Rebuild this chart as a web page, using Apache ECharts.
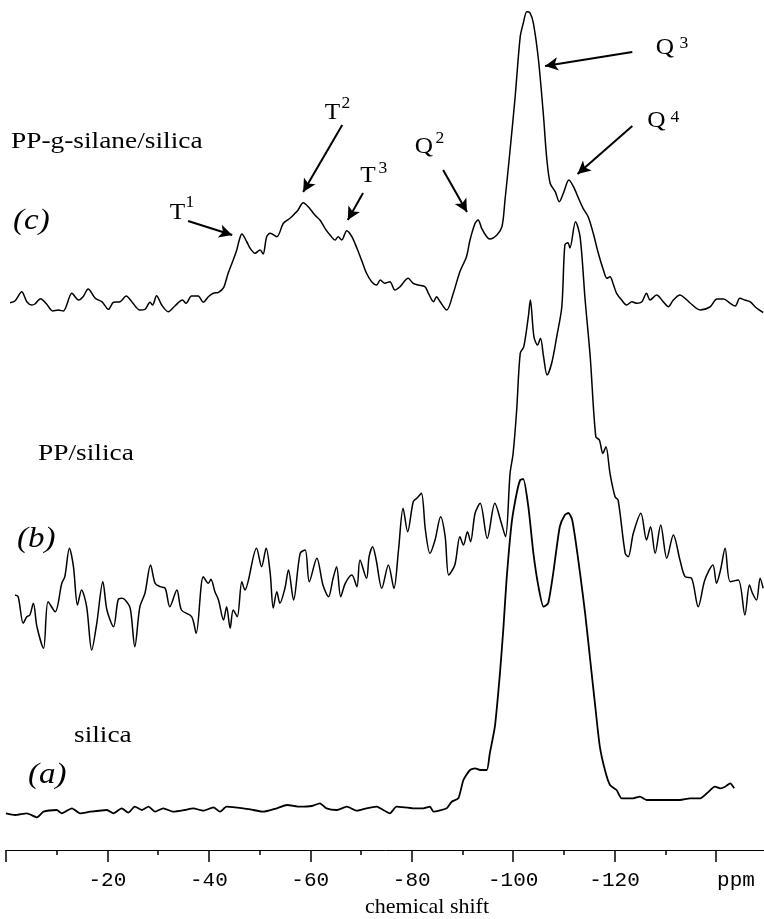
<!DOCTYPE html>
<html><head><meta charset="utf-8">
<script src="https://cdn.jsdelivr.net/npm/echarts@6/dist/echarts.min.js"></script>
<style>html,body{margin:0;padding:0;background:#fff}#c{width:764px;height:919px}</style>
</head><body><div id="c"></div>
<script>
// ---- data: [chemical shift (ppm), intensity relative to trace baseline] ----
const traceC = [[-0.8,-2.7],[-1.8,-0.7],[-3.1,8.3],[-4.1,-1.7],[-5.1,-5],[-5.7,-4],[-6.8,1.3],[-8.0,-4],[-9.2,-11],[-10.3,-10],[-11.3,-11],[-13.0,6.7],[-14.3,0],[-15.2,3.3],[-16.2,11],[-17.6,1.7],[-18.9,-1.7],[-20.2,-9.3],[-21.2,-2.3],[-22.5,-1.7],[-23.7,4],[-24.8,-1.7],[-26.4,-10],[-27.4,-9.3],[-28.4,-2.3],[-28.9,-5],[-29.7,4.3],[-30.7,-5],[-32.0,-11.7],[-33.3,-6],[-34.8,0],[-35.5,-3.3],[-36.6,4],[-37.9,4],[-38.9,-2.3],[-39.9,3.3],[-40.9,6.7],[-41.9,7.7],[-42.9,12.3],[-43.8,26.7],[-44.8,40],[-45.5,50],[-46.0,60],[-46.5,66],[-47.5,58],[-48.1,52],[-49.1,46.7],[-50.1,50],[-50.7,46],[-51.4,63.3],[-52.1,66.7],[-53.4,63.3],[-54.7,76.7],[-56.0,81.7],[-57.0,86.7],[-57.6,90],[-58.6,97.3],[-59.6,93.3],[-60.9,85],[-61.9,80],[-62.9,71.7],[-63.9,65],[-64.9,60],[-65.5,63.3],[-66.2,60],[-67.2,69.3],[-68.2,63.3],[-69.2,51.7],[-70.1,40],[-71.1,26.7],[-72.1,18.3],[-73.1,15],[-73.8,20],[-74.7,16.7],[-75.7,18.3],[-76.7,10],[-77.7,13.3],[-79.3,21.7],[-80.3,16.7],[-81.3,15],[-82.6,13.3],[-83.3,6.7],[-84.3,-1.7],[-84.9,3.3],[-85.6,-1.7],[-86.9,-10],[-88.2,6.7],[-89.5,28.3],[-90.8,43.3],[-91.5,60],[-92.5,76.7],[-93.1,80],[-93.8,71.7],[-94.8,63.3],[-95.4,61],[-96.8,65],[-97.8,73.3],[-98.4,100],[-99.4,150],[-100.4,203.3],[-101.4,263.3],[-102.0,276.7],[-102.7,288.3],[-103.3,287.3],[-104.0,276.7],[-105.0,240],[-106.0,183.3],[-106.6,143.3],[-107.3,116.7],[-108.3,108.3],[-109.1,98.3],[-109.9,106.7],[-111.0,120],[-111.9,113.3],[-112.9,101.7],[-113.8,91.7],[-114.8,83.3],[-115.8,66.7],[-116.8,46.7],[-117.8,30],[-118.5,21.7],[-119.1,23.3],[-119.8,15],[-120.4,6.7],[-121.4,0],[-122.4,-5],[-123.4,-1.7],[-124.4,-3.3],[-125.4,-1.7],[-126.3,6.7],[-127.0,0],[-128.3,5],[-129.6,-1.7],[-130.6,-6.7],[-131.6,0],[-132.9,5],[-133.9,1.7],[-134.9,-3],[-136.9,-10],[-138.8,-7],[-140.2,1],[-141.5,1],[-142.8,-3.3],[-143.8,-6],[-144.7,1.7],[-145.7,0],[-146.7,-1.7],[-148.0,-8],[-149.3,-12.5]];

const traceB = [[-1.8,5],[-2.4,3.3],[-3.4,-23.3],[-4.1,-16.7],[-4.7,-15],[-5.4,-3.3],[-6.1,-26.7],[-7.4,-48.3],[-8.3,-1.7],[-9.7,-11.7],[-11.0,16.7],[-11.6,23.3],[-12.5,51.7],[-13.3,33.3],[-14.1,-5],[-14.9,10],[-15.9,-6.7],[-16.9,-50],[-17.9,-23.3],[-19.1,18.3],[-19.9,-10],[-21.2,-26.7],[-22.1,0],[-22.8,1.7],[-23.5,0],[-24.5,-8.3],[-25.4,-46.7],[-26.4,-6.7],[-27.4,6.7],[-28.5,35],[-29.4,16.7],[-30.4,13.3],[-31.4,11.7],[-32.3,-6.7],[-33.7,10],[-34.6,-10],[-36.6,-16.7],[-37.5,-33.3],[-38.9,23.3],[-39.9,16.7],[-40.4,20.7],[-41.2,8.3],[-41.9,0],[-42.9,-20],[-43.5,-6.7],[-44.2,-28.3],[-44.8,-10],[-45.6,-16.7],[-46.5,18.3],[-47.1,10],[-49.4,51.7],[-50.4,33.3],[-51.3,51.7],[-52.1,26.7],[-52.7,-8],[-53.4,8.3],[-54.0,-3.3],[-55.0,11.7],[-55.7,30],[-56.7,0],[-58.0,46.7],[-59.0,50],[-59.8,18.3],[-61.3,41.7],[-62.5,15],[-63.6,3.3],[-64.5,21.7],[-65.2,33.3],[-66.0,3.3],[-66.9,16.7],[-68.2,25],[-69.2,13.3],[-69.8,40],[-71.1,21.7],[-71.6,43.3],[-72.3,53.3],[-73.0,40],[-74.1,11.7],[-75.4,35],[-76.5,11.7],[-77.4,50],[-78.3,91.7],[-79.2,68.3],[-80.3,98.3],[-81.0,101.7],[-81.9,106.7],[-82.7,70],[-83.6,46.7],[-84.6,60],[-85.7,83.3],[-86.6,63.3],[-87.3,25],[-88.5,35],[-89.5,63.3],[-90.2,55],[-91.0,68.3],[-91.6,58.3],[-92.5,86.7],[-93.5,96.7],[-94.9,61.7],[-96.4,96.7],[-97.6,78.3],[-98.5,63.3],[-99.4,126.7],[-100.0,146.7],[-100.7,190],[-101.4,246.7],[-102.1,253.3],[-103.0,283.3],[-103.4,300],[-104.1,263.3],[-104.8,255],[-105.4,261.7],[-106.0,243.3],[-106.7,225],[-107.6,236.7],[-108.6,263.3],[-109.6,293.3],[-110.2,355],[-110.8,357.3],[-111.2,352],[-112.3,378.3],[-113.2,363.3],[-114.2,300],[-115.2,243.3],[-116.3,163.3],[-117.0,160],[-117.7,146.7],[-118.3,153.3],[-119.1,126.7],[-120.1,103.3],[-120.7,100],[-122.1,46.7],[-122.7,43.3],[-123.7,66.7],[-125.2,86.7],[-126.3,60],[-127.1,73.3],[-128.0,46.7],[-129.1,75],[-130.3,41.7],[-131.6,65],[-132.9,40],[-133.9,23.3],[-135.2,21.7],[-136.5,-6.7],[-137.8,20],[-139.4,35],[-140.1,16.7],[-140.9,30],[-141.8,51.7],[-142.8,18.3],[-144.4,20],[-145.7,-15],[-146.6,15],[-147.2,6.7],[-148.0,0],[-148.7,21.7],[-149.3,11.7]];

const traceA = [[0,-1.3],[-1.8,-3],[-4.1,-1.3],[-6.1,-5.3],[-7.4,0.3],[-10.0,2],[-11.0,-1.3],[-13.0,3.7],[-14.6,-1.3],[-16.6,0.3],[-19.9,2],[-21.2,-1.3],[-22.8,3.7],[-24.1,-0.7],[-25.4,5.3],[-26.8,2],[-28.1,5.3],[-29.4,0.3],[-31.0,3.7],[-33.0,0.3],[-35.3,2],[-36.9,3.7],[-38.9,1.3],[-40.9,4.7],[-42.2,0.3],[-43.5,5.3],[-46.8,3.7],[-48.8,2],[-50.7,0.3],[-53.4,3.7],[-55.4,7],[-58.0,5.3],[-60.3,6],[-61.9,8.7],[-63.2,3.7],[-65.2,2],[-67.2,5.3],[-69.2,1.3],[-71.1,3.7],[-73.1,5.3],[-73.8,3.7],[-75.7,-1.3],[-77.0,5.3],[-80.3,3.7],[-82.3,3.7],[-83.6,5.3],[-84.3,0.3],[-86.9,3.7],[-87.9,10.3],[-89.2,13.7],[-90.2,32],[-91.5,42],[-92.5,43.7],[-93.5,42],[-94.8,42],[-95.4,58.7],[-96.4,85.3],[-97.4,138.7],[-98.1,185.3],[-98.7,232],[-99.7,288.7],[-100.7,318.7],[-101.4,332],[-102.0,333],[-103.0,305.3],[-104.0,258.7],[-105.0,225.3],[-106.0,205.3],[-106.9,208.7],[-107.9,238.7],[-109.2,285.3],[-110.2,297],[-110.9,299],[-111.6,293],[-112.2,275.3],[-113.2,238.7],[-114.2,198.7],[-115.2,152],[-116.2,105.3],[-117.1,65.3],[-118.1,42],[-119.1,27],[-120.4,22],[-121.4,13.7],[-123.7,13.7],[-125.0,15.3],[-126.3,12],[-128.3,12],[-132.9,12],[-134.9,13.7],[-136.9,13.7],[-138.2,18.7],[-139.8,25.3],[-140.8,23.7],[-141.8,25.3],[-142.8,28.7],[-143.6,23.7]];

// vertical stacking offsets of the three spectra (a, b, c)
const traceOffsets = [38, 250, 550];
const traceNames = ['silica', 'PP/silica', 'PP-g-silane/silica'];
const panelTags = ['(a)', '(b)', '(c)'];

// x-axis ticks
const majorTicks = [0, -20, -40, -60, -80, -100, -120, -140];
const majorTickLabels = ['', '-20', '-40', '-60', '-80', '-100', '-120', 'ppm'];
const axisTitle = 'chemical shift';

// peak annotations (arrows in data coordinates: [ppm, stacked intensity])
const annotationLetters = ['T', 'T', 'T', 'Q', 'Q', 'Q'];
const annotationSups = ['1', '2', '3', '2', '3', '4'];
const arrowFrom = [[-35.9, 629], [-66.3, 725], [-70.4, 657], [-86.2, 680], [-123.5, 798], [-123.5, 724]];
const arrowTo = [[-44.6, 615], [-58.6, 658], [-67.4, 630], [-90.9, 638], [-106.3, 784], [-112.7, 676]];

// ---- layout ----
const SERIF = '"Liberation Serif","Times New Roman",serif';
const letterPos = [[177.5, 212.5], [332.5, 112.5], [368, 175.5], [424, 147], [665, 47.5], [656.5, 121]];
const supPos = [[190, 202.5], [346, 104], [383, 169], [440, 139], [684, 44], [675, 117.5]];
const namePos = [[74, 735.5], [38, 454], [11, 142]];
const tagPos = [[28, 775], [17, 539], [13, 221]];

const chart = echarts.init(document.getElementById('c'), null, {renderer: 'canvas'});

function stack(trace, off) { return trace.map(p => [p[0], p[1] + off]); }

const graphics = [];
traceNames.forEach((t, i) => graphics.push({
  type: 'text', x: namePos[i][0], y: namePos[i][1], scaleX: 1.19,
  style: {text: t, font: '23px ' + SERIF, fill: '#000', textAlign: 'left', textVerticalAlign: 'middle'}
}));
panelTags.forEach((t, i) => graphics.push({
  type: 'text', x: tagPos[i][0], y: tagPos[i][1], scaleX: 1.1,
  style: {text: t, font: 'italic 30px ' + SERIF, fill: '#000', textAlign: 'left', textVerticalAlign: 'middle'}
}));
annotationLetters.forEach((t, i) => {
  graphics.push({type: 'text', x: letterPos[i][0], y: letterPos[i][1], scaleX: 1.1,
    style: {text: t, font: '23px ' + SERIF, fill: '#000', textAlign: 'center', textVerticalAlign: 'middle'}});
  graphics.push({type: 'text', x: supPos[i][0], y: supPos[i][1], scaleX: 1.1,
    style: {text: annotationSups[i], font: '16px ' + SERIF, fill: '#000', textAlign: 'center', textVerticalAlign: 'middle'}});
});
graphics.push({type: 'text', x: 427, y: 907.5,
  style: {text: axisTitle, font: '22px ' + SERIF, fill: '#000', textAlign: 'center', textVerticalAlign: 'middle'}});

const xCommon = {type: 'value', min: -160, max: 0, inverse: true, position: 'bottom',
  splitLine: {show: false}};

const option = {
  animation: false,
  backgroundColor: '#fff',
  grid: {left: 6, right: -53.4, top: 0, bottom: 69, containLabel: false, outerBoundsMode: 'none'},
  xAxis: [
    Object.assign({}, xCommon, {
      interval: 20,
      axisLine: {show: true, lineStyle: {color: '#000', width: 1}},
      axisTick: {show: true, length: 12, lineStyle: {color: '#000', width: 1.5}},
      minorTick: {show: false},
      axisLabel: {
        show: true, margin: 20, color: '#000', fontFamily: '"Liberation Mono",monospace', fontSize: 21,
        formatter: v => {
          const k = majorTicks.indexOf(v);
          if (k < 0) return '';
          const s = majorTickLabels[k];
          return s === 'ppm' ? '{p|ppm}' : s;
        },
        rich: {p: {fontFamily: '"Liberation Mono",monospace', fontSize: 21, color: '#000', padding: [0, 0, 0, 40]}}
      }
    }),
    Object.assign({}, xCommon, {
      interval: 10,
      axisLine: {show: false},
      axisTick: {show: true, length: 5, lineStyle: {color: '#000', width: 1.5}},
      axisLabel: {show: false}
    })
  ],
  yAxis: {type: 'value', min: 0, max: 850, show: false},
  graphic: graphics,
  series: [
    {type: 'line', name: traceNames[0], data: stack(traceA, traceOffsets[0]), showSymbol: false,
      smooth: 0.2, lineStyle: {color: '#000', width: 1.8}, silent: true},
    {type: 'line', name: traceNames[1], data: stack(traceB, traceOffsets[1]), showSymbol: false,
      smooth: 0.3, lineStyle: {color: '#000', width: 1.5}, silent: true},
    {type: 'line', name: traceNames[2], data: stack(traceC, traceOffsets[2]), showSymbol: false,
      smooth: 0.3, lineStyle: {color: '#000', width: 1.5}, silent: true,
      markLine: {
        silent: true, animation: false,
        symbol: ['none', 'arrow'], symbolSize: 12,
        label: {show: false},
        lineStyle: {color: '#000', width: 2, type: 'solid'},
        itemStyle: {color: '#000'},
        emphasis: {disabled: true},
        data: arrowFrom.map((f, i) => [
          {coord: f, symbol: 'none'},
          {coord: arrowTo[i], symbol: 'arrow', symbolSize: [10, 13]}
        ])
      }}
  ]
};
chart.setOption(option);
</script>
</body></html>
